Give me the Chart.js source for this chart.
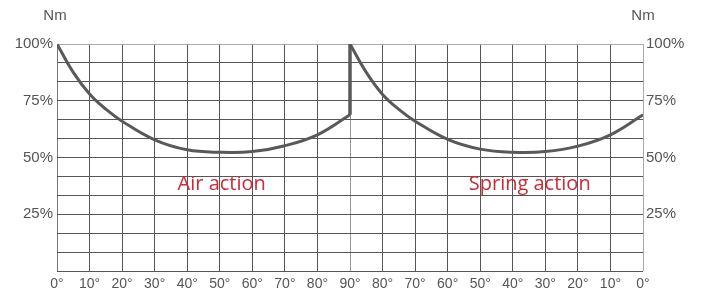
<!DOCTYPE html>
<html>
<head>
<meta charset="utf-8">
<script src="https://cdn.jsdelivr.net/npm/chart.js@4"></script>
<style>
  body { margin: 0; background: #fff; }
  #wrap { width: 703px; height: 293px; position: relative; }
</style>
</head>
<body>
<div id="wrap"><canvas id="myChart"></canvas></div>
<script>
// air action: 0° -> 90°
const airAngles = [0, 5, 10, 15, 20, 30, 40, 50, 60, 70, 80, 90];
const airTorque = [100, 87.5, 78, 71.3, 66, 57.8, 53.4, 52.3, 52.6, 55.2, 60, 68.8];

// spring action: 90° -> 0° (drawn on the right half)
const springAngles = [90, 85, 80, 75, 70, 60, 50, 40, 30, 20, 10, 0];
const springTorque = [100, 87.5, 77.8, 71.2, 66, 58, 53.7, 52.3, 52.6, 55, 60, 68.8];

// jump at 90° when air stops and spring takes over
const jumpAngles = [90, 90];
const jumpTorque = [68.8, 100];

const xTicks = [0, 10, 20, 30, 40, 50, 60, 70, 80, 90, 80, 70, 60, 50, 40, 30, 20, 10, 0];
const yTickLabels = ["25%", "50%", "75%", "100%"];
const actionLabels = ["Air action", "Spring action"];

const lineColor = "#59595c";
const textGray = "#555";
const red = "#cc2b36";

const airPts = airAngles.map((a, i) => ({ x: a, y: airTorque[i] }));
const springPts = springAngles.map((a, i) => ({ x: 180 - a, y: springTorque[i] }));
const jumpPts = jumpAngles.map((a, i) => ({ x: a, y: jumpTorque[i] }));

const yTicks = () => [...Array(13).keys()].map(i => ({ value: i * 100 / 12 }));
const yLabel = (v) => {
  const p = Math.round(v);
  return yTickLabels.includes(p + "%") ? p + "%" : "";
};

const textPlugin = {
  id: "texts",
  afterDraw(chart) {
    const c = chart.ctx;
    const a = chart.chartArea;
    const x = chart.scales.x, y = chart.scales.y;
    c.save();
    c.fillStyle = textGray;
    c.font = '15px "Liberation Sans", Arial, sans-serif';
    c.textAlign = "center";
    c.textBaseline = "middle";
    c.fillText("Nm", a.left - 2, 16);
    c.fillText("Nm", a.right, 16);
    c.fillStyle = red;
    c.font = '20px "Open Sans", sans-serif';
    c.fillText(actionLabels[0], x.getPixelForValue(50.6), y.getPixelForValue(38));
    c.fillText(actionLabels[1], x.getPixelForValue(145.2), y.getPixelForValue(38));
    c.restore();
  }
};

const ctx = document.getElementById("myChart").getContext("2d");
const chart = new Chart(ctx, {
  type: "line",
  data: {
    datasets: [
      { data: airPts, borderColor: lineColor, borderWidth: 3, pointRadius: 0, tension: 0.4, yAxisID: "y" },
      { data: jumpPts, borderColor: lineColor, borderWidth: 3.5, pointRadius: 0, yAxisID: "y" },
      { data: springPts, borderColor: lineColor, borderWidth: 3, pointRadius: 0, tension: 0.4, yAxisID: "y" }
    ]
  },
  options: {
    animation: false,
    responsive: true,
    maintainAspectRatio: false,
    layout: { padding: { top: 44, left: 0, right: 0, bottom: 0 } },
    plugins: { legend: { display: false }, tooltip: { enabled: false } },
    scales: {
      x: {
        type: "linear",
        min: 0, max: 180,
        afterBuildTicks: (s) => { s.ticks = xTicks.map((t, i) => ({ value: i * 10 })); },
        afterFit: (s) => { s.height = 22; },
        border: { display: false },
        grid: {
          drawTicks: false,
          lineWidth: 1,
          color: (c) => {
            const v = c.tick ? c.tick.value : 0;
            if (v === 90) return "#9a9a9a";
            if (v === 180) return "#aaa";
            if (v === 0) return "#777";
            return "#555";
          }
        },
        ticks: {
          padding: 5,
          color: textGray,
          font: { family: '"Liberation Sans", Arial, sans-serif', size: 14 },
          maxRotation: 0,
          autoSkip: false,
          callback: (v) => xTicks[Math.round(v / 10)] + "°"
        }
      },
      y: {
        position: "left",
        min: 0, max: 100,
        afterBuildTicks: (s) => { s.ticks = yTicks(); },
        afterFit: (s) => { s.width = 57; },
        border: { display: false },
        grid: {
          drawTicks: false,
          color: (c) => (c.tick && Math.round(c.tick.value) === 100 ? "#aaa" : "#555")
        },
        ticks: {
          padding: 4,
          color: textGray,
          font: { family: '"Liberation Sans", Arial, sans-serif', size: 15 },
          autoSkip: false,
          callback: yLabel
        }
      },
      y2: {
        position: "right",
        min: 0, max: 100,
        afterBuildTicks: (s) => { s.ticks = yTicks(); },
        afterFit: (s) => { s.width = 60; },
        border: { display: false },
        grid: { display: false, drawTicks: false },
        ticks: {
          padding: 3,
          color: textGray,
          font: { family: '"Liberation Sans", Arial, sans-serif', size: 15 },
          autoSkip: false,
          callback: yLabel
        }
      }
    }
  },
  plugins: [textPlugin]
});
</script>
</body>
</html>
